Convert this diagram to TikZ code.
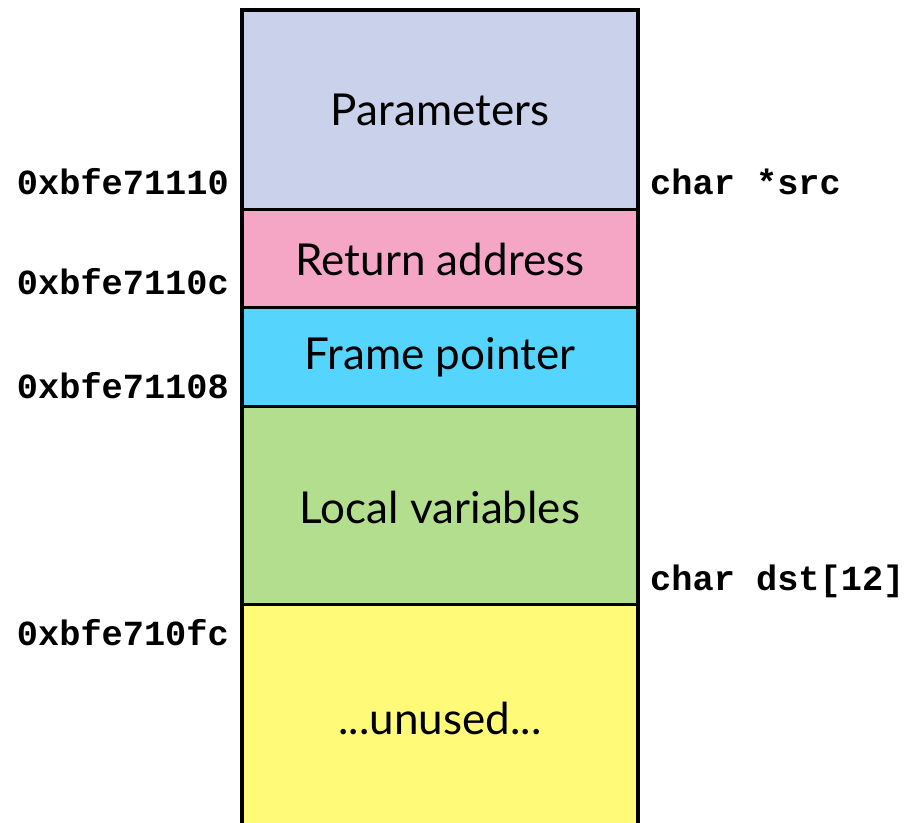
\documentclass[tikz,border=0pt]{standalone}
\usepackage{fontspec}
\setmainfont{Lato}
\setmonofont{Liberation Mono}
\begin{document}
\begin{tikzpicture}[x=1pt,y=-1pt,
  cell/.style={draw=black,line width=3.5pt},
  celltext/.style={font=\fontsize{44}{50}\selectfont,anchor=center},
  addr/.style={font=\fontsize{35.3}{40}\selectfont\ttfamily\bfseries,anchor=base east,inner sep=0pt},
  var/.style={font=\fontsize{35.3}{40}\selectfont\ttfamily\bfseries,anchor=base west,inner sep=0pt}]
\useasboundingbox (0,0) rectangle (917,822);
\definecolor{cParam}{HTML}{C9D1EB}
\definecolor{cRet}{HTML}{F4A6C4}
\definecolor{cFrame}{HTML}{55D5FD}
\definecolor{cLocal}{HTML}{B3DE8E}
\definecolor{cUnused}{HTML}{FFFB78}
\fill[cParam] (242,10) rectangle (638,209);
\fill[cRet] (242,209) rectangle (638,307);
\fill[cFrame] (242,307) rectangle (638,406);
\fill[cLocal] (242,406) rectangle (638,604);
\fill[cUnused] (242,604) rectangle (638,830);
\draw[cell] (242,830) -- (242,10) -- (638,10) -- (638,830);
\draw[line width=3pt] (242,209) -- (638,209);
\draw[line width=3pt] (242,307) -- (638,307);
\draw[line width=3pt] (242,406) -- (638,406);
\draw[line width=3pt] (242,604) -- (638,604);
\node[celltext] (param) at (440,110) {Parameters};
\node[celltext] (ret) at (440,259) {Return address};
\node[celltext] (frame) at (440,357) {Frame pointer};
\node[celltext] (local) at (440,507) {Local variables};
\node[celltext] (unused) at (440,718) {...unused...};
\node[addr] (a1) at (229,194) {0xbfe71110};
\node[addr] (a2) at (229,294) {0xbfe7110c};
\node[addr] (a3) at (229,398) {0xbfe71108};
\node[addr] (a4) at (229,645) {0xbfe710fc};
\node[var] (v1) at (650,194) {char *src};
\node[var] (v2) at (650,590) {char dst[12]};
\end{tikzpicture}
\end{document}
